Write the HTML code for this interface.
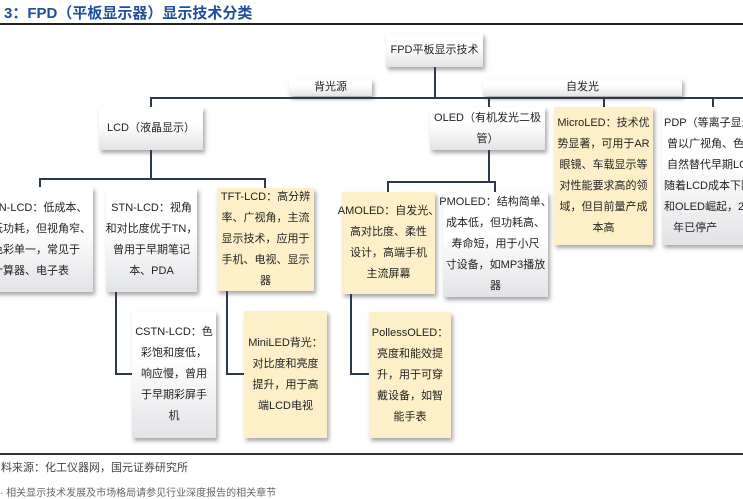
<!DOCTYPE html>
<html><head><meta charset="utf-8"><style>
body{margin:0;width:743px;height:490px;overflow:hidden;background:#fff;position:relative;font-family:"Liberation Sans","Noto Sans CJK SC",sans-serif;}
.t{position:absolute;left:4px;top:2px;font-size:15px;font-weight:bold;color:#1f4e9c;}
.b{position:absolute;box-sizing:border-box;display:flex;align-items:center;justify-content:center;text-align:center;font-size:11px;line-height:21px;color:#222;background:linear-gradient(#fff 40%,#e2e3e6);box-shadow:2px 3px 4px rgba(0,0,0,.35);padding:0 2px;white-space:nowrap;}
.y{background:#fdf0c9;}
.l{position:absolute;background:#2d3a4b;}
.h{height:2px}.v{width:2px}
</style></head><body>
<div class="t">3：FPD（平板显示器）显示技术分类</div>
<div class="l" style="left:0;top:23px;width:743px;height:2px;background:#222"></div>

<div class="b" style="left:386px;top:33px;width:97px;height:34px">FPD平板显示技术</div>
<div class="l v" style="left:434px;top:67px;height:32px"></div>
<div class="b" style="left:289px;top:79px;width:83px;height:17px;line-height:17px">背光源</div>
<div class="b" style="left:483px;top:79px;width:199px;height:17px;line-height:17px">自发光</div>
<div class="l h" style="left:150px;top:97px;width:593px"></div>
<div class="l v" style="left:150px;top:97px;height:10px"></div>
<div class="l v" style="left:488px;top:97px;height:10px"></div>
<div class="l v" style="left:603px;top:97px;height:10px"></div>
<div class="l v" style="left:712px;top:97px;height:10px"></div>

<div class="b" style="left:99px;top:107px;width:104px;height:43px">LCD（液晶显示）</div>
<div class="b" style="left:430px;top:107px;width:115px;height:43px">OLED（有机发光二极<br>管）</div>
<div class="b y" style="left:554px;top:107px;width:99px;height:138px">MicroLED：技术优<br>势显著，可用于AR<br>眼镜、车载显示等<br>对性能要求高的领<br>域，但目前量产成<br>本高</div>
<div class="b" style="left:662px;top:107px;width:100px;height:138px;justify-content:flex-start;text-align:left">PDP（等离子显示）<br>&nbsp;曾以广视角、色彩<br>&nbsp;自然替代早期LCD，<br>随着LCD成本下降<br>和OLED崛起，2014<br>&nbsp;&nbsp;&nbsp;年已停产</div>

<div class="l v" style="left:150px;top:150px;height:30px"></div>
<div class="l h" style="left:39px;top:178px;width:227px"></div>
<div class="l v" style="left:39px;top:178px;height:10px"></div>
<div class="l v" style="left:264px;top:178px;height:10px"></div>

<div class="l v" style="left:488px;top:150px;height:33px"></div>
<div class="l h" style="left:387px;top:181px;width:108px"></div>
<div class="l v" style="left:387px;top:181px;height:11px"></div>
<div class="l v" style="left:494px;top:181px;height:11px"></div>

<div class="b" style="left:-14px;top:187px;width:107px;height:105px;justify-content:flex-end;text-align:left">TN-LCD：低成本、<br>低功耗，但视角窄、<br>色彩单一，常见于<br>计算器、电子表</div>
<div class="b" style="left:106px;top:188px;width:91px;height:104px">STN-LCD：视角<br>和对比度优于TN，<br>曾用于早期笔记<br>本、PDA</div>
<div class="b y" style="left:217px;top:188px;width:97px;height:103px">TFT-LCD：高分辨<br>率、广视角，主流<br>显示技术，应用于<br>手机、电视、显示<br>器</div>
<div class="b y" style="left:342px;top:192px;width:93px;height:102px">AMOLED：自发光、<br>高对比度、柔性<br>设计，高端手机<br>主流屏幕</div>
<div class="b" style="left:443px;top:192px;width:105px;height:105px">PMOLED：结构简单、<br>成本低，但功耗高、<br>寿命短，用于小尺<br>寸设备，如MP3播放<br>器</div>

<div class="l v" style="left:115px;top:292px;height:83px"></div>
<div class="l h" style="left:115px;top:373px;width:17px"></div>
<div class="l v" style="left:226px;top:291px;height:84px"></div>
<div class="l h" style="left:226px;top:373px;width:18px"></div>
<div class="l v" style="left:350px;top:294px;height:81px"></div>
<div class="l h" style="left:350px;top:373px;width:19px"></div>

<div class="b" style="left:132px;top:311px;width:84px;height:127px">CSTN-LCD：色<br>彩饱和度低，<br>响应慢，曾用<br>于早期彩屏手<br>机</div>
<div class="b y" style="left:244px;top:311px;width:83px;height:127px">MiniLED背光：<br>对比度和亮度<br>提升，用于高<br>端LCD电视</div>
<div class="b y" style="left:369px;top:312px;width:82px;height:126px">PollessOLED：<br>亮度和能效提<br>升，用于可穿<br>戴设备，如智<br>能手表</div>

<div class="l h" style="left:0;top:453px;width:743px;background:#333"></div>
<div style="position:absolute;left:-10px;top:459px;font-size:11px;color:#444">资料来源：化工仪器网，国元证券研究所</div>
<div style="position:absolute;left:0;top:484px;font-size:10px;color:#666">· 相关显示技术发展及市场格局请参见行业深度报告的相关章节</div>
</body></html>
